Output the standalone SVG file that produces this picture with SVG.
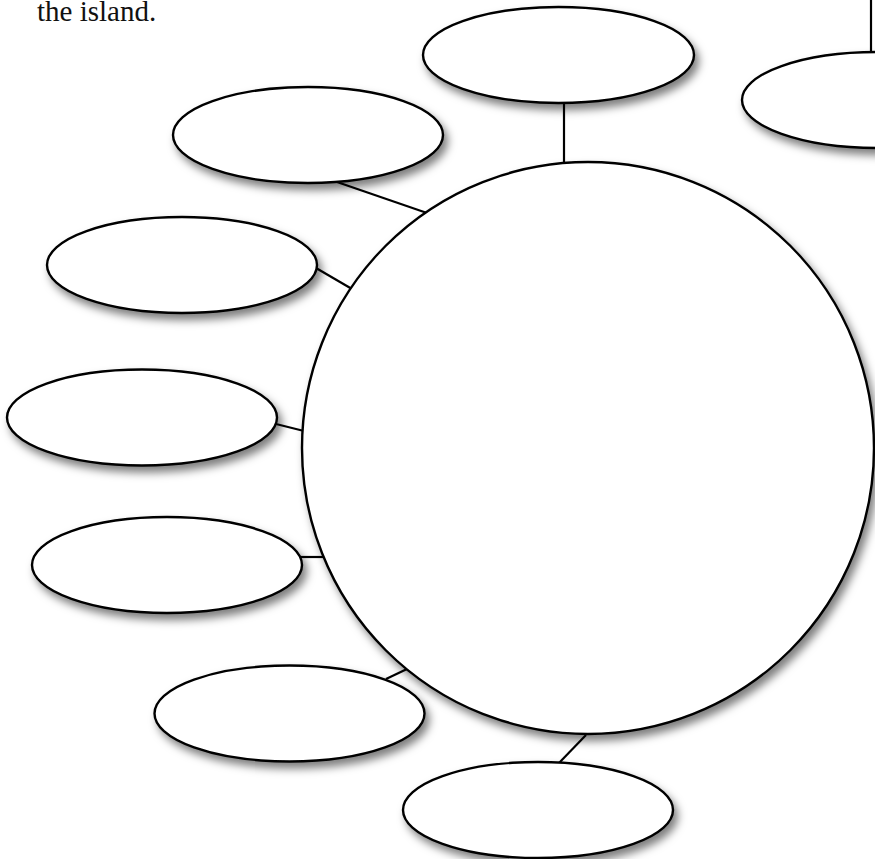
<svg xmlns="http://www.w3.org/2000/svg" width="875" height="859" viewBox="0 0 875 859">
<defs>
<filter id="sh" x="-20%" y="-20%" width="140%" height="150%">
<feDropShadow dx="4" dy="6" stdDeviation="4.5" flood-color="#000" flood-opacity="0.5"/>
</filter>
<style>
.n{fill:#fff;stroke:#000;stroke-width:2.4;filter:url(#sh)}
.c line{stroke:#000;stroke-width:2.2}
.t{font-family:"Liberation Serif",serif;font-size:29px;fill:#111}
</style>
</defs>
<rect width="875" height="859" fill="#fff"/>
<text class="t" x="37" y="21">the island.</text>
<g class="c">
<line x1="564" y1="103" x2="564" y2="163"/>
<line x1="871" y1="0" x2="871" y2="53"/>
<line x1="337" y1="182" x2="427" y2="213"/>
<line x1="316" y1="268" x2="352" y2="289"/>
<line x1="276" y1="424" x2="304" y2="431"/>
<line x1="301" y1="557" x2="325" y2="557"/>
<line x1="386" y1="679" x2="407" y2="669"/>
<line x1="559" y1="763" x2="586" y2="735"/>
</g>
<g id="n-topright-hidden"><ellipse class="n" cx="877" cy="-50" rx="135" ry="48"/></g>
<g id="n-top"><ellipse class="n" cx="558.5" cy="55" rx="135.5" ry="48"/></g>
<g id="n-topright"><ellipse class="n" cx="877" cy="100" rx="135" ry="48"/></g>
<g id="n-left1"><ellipse class="n" cx="308" cy="135" rx="135" ry="48"/></g>
<g id="n-left2"><ellipse class="n" cx="182" cy="265" rx="135" ry="48"/></g>
<g id="n-left3"><ellipse class="n" cx="142" cy="417.5" rx="135" ry="48"/></g>
<g id="n-left4"><ellipse class="n" cx="167" cy="565" rx="135" ry="48"/></g>
<g id="n-left5"><ellipse class="n" cx="289.5" cy="713.5" rx="135" ry="48"/></g>
<g id="n-bottom"><ellipse class="n" cx="538" cy="810" rx="135" ry="48"/></g>
<g id="n-center"><circle class="n" cx="588" cy="448" r="286"/></g>
</svg>
